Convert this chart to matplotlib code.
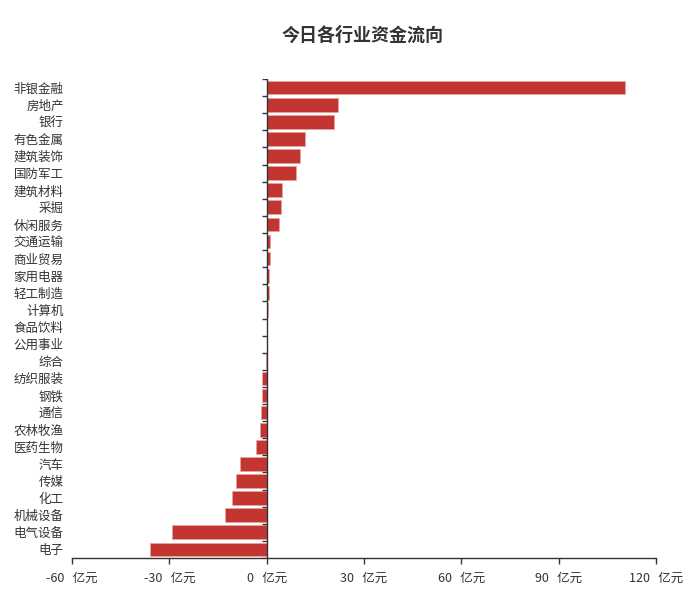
import numpy as np
import matplotlib
matplotlib.use('Agg')
import matplotlib.pyplot as plt

plt.rcParams['font.family'] = ['Noto Sans CJK SC', 'DejaVu Sans']

# 行业与资金流向（亿元），从上到下
hangye = ['非银金融', '房地产', '银行', '有色金属', '建筑装饰', '国防军工', '建筑材料',
          '采掘', '休闲服务', '交通运输', '商业贸易', '家用电器', '轻工制造', '计算机',
          '食品饮料', '公用事业', '综合', '纺织服装', '钢铁', '通信', '农林牧渔',
          '医药生物', '汽车', '传媒', '化工', '机械设备', '电气设备', '电子']
liuxiang = [110.4, 21.9, 20.8, 11.9, 10.4, 9.1, 4.8,
            4.5, 3.8, 1.1, 0.9, 0.8, 0.7, 0.3,
            0.05, -0.05, -0.1, -1.3, -1.3, -1.7, -2.0,
            -3.2, -8.2, -9.3, -10.6, -12.7, -29.1, -36.1]
x_ticks = [-60, -30, 0, 30, 60, 90, 120]

COR = '#c23531'
TXT = '#333333'

fig = plt.figure(figsize=(6.98, 6.05), dpi=100)
ax = fig.add_axes([72 / 698, 1 - 558 / 605, (656 - 72) / 698, (558 - 79) / 605])

n = len(hangye)
pos = np.arange(n)
ax.barh(pos, liuxiang, height=0.8, color=COR, edgecolor='#e8a4a2', linewidth=0.5, zorder=2)

ax.set_xlim(x_ticks[0], x_ticks[-1])
ax.set_ylim(n - 0.5, -0.5)

# eixo vertical em zero com marcas entre categorias
ax.axvline(0, color=TXT, linewidth=1, zorder=3)
limites = np.arange(n + 1) - 0.5
ax.hlines(limites, -1.5, 0, color=TXT, linewidth=1, zorder=3)

ax.set_yticks(pos)
ax.set_yticklabels(hangye, fontsize=9, color=TXT)
ax.tick_params(axis='y', length=0, pad=6)

ax.set_xticks(x_ticks)
ax.set_xticklabels([f'{v}   亿元' for v in x_ticks], fontsize=9, color=TXT)
ax.tick_params(axis='x', length=4, width=1, color=TXT, pad=6)

for s in ['top', 'right', 'left']:
    ax.spines[s].set_visible(False)
ax.spines['bottom'].set_color(TXT)
ax.spines['bottom'].set_linewidth(1)

fig.text(363 / 698, 1 - 35 / 605, '今日各行业资金流向', ha='center', va='center',
         fontsize=13, fontweight='bold', color=TXT)

fig.savefig('out.png', dpi=100)
